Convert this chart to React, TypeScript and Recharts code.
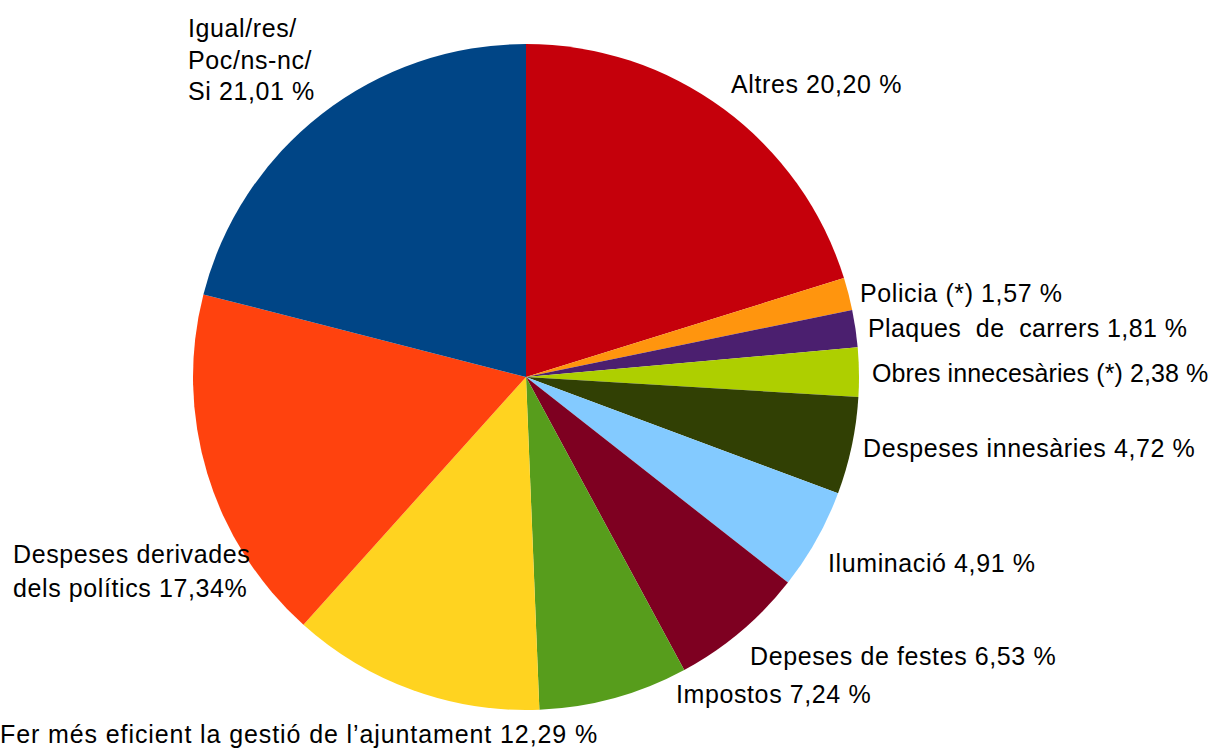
import { PieChart, Pie, Cell } from "recharts"

const categories = [
  "Altres",
  "Policia (*)",
  "Plaques  de  carrers",
  "Obres innecesàries (*)",
  "Despeses innesàries",
  "Iluminació",
  "Depeses de festes",
  "Impostos",
  "Fer més eficient la gestió de l’ajuntament",
  "Despeses derivades dels polítics",
  "Igual/res/Poc/ns-nc/Si",
]

const values = [20.2, 1.57, 1.81, 2.38, 4.72, 4.91, 6.53, 7.24, 12.29, 17.34, 21.01]

// label text, one entry per line
const labelLines = [
  ["Altres 20,20 %"],
  ["Policia (*) 1,57 %"],
  ["Plaques  de  carrers 1,81 %"],
  ["Obres innecesàries (*) 2,38 %"],
  ["Despeses innesàries 4,72 %"],
  ["Iluminació 4,91 %"],
  ["Depeses de festes 6,53 %"],
  ["Impostos 7,24 %"],
  ["Fer més eficient la gestió de l’ajuntament 12,29 %"],
  ["Despeses derivades", "dels polítics 17,34%"],
  ["Igual/res/", "Poc/ns-nc/", "Si 21,01 %"],
]

const colors = [
  "#c5000b", "#ff950e", "#4b1f6f", "#aecf00", "#314004", "#83caff",
  "#7e0021", "#579d1c", "#ffd320", "#ff420e", "#004586",
]

// label offsets from pie centre (left x, first baseline y)
const labelOffsets = [
  [205, -284], [334, -75], [342, -40], [346, 5], [337, 80], [302, 195],
  [224, 288], [150, 326], [-526, 366], [-513, 186], [-338, -340],
]

const labelSpacing = [0.6, 0.6, 0.4, 0.1, 0.6, 0.6, 0.6, 0.6, 0.9, 0.6, 0.6]

const data = categories.map((name, i) => ({ name, value: values[i] }))

const FONT = "'Liberation Sans', Arial, sans-serif"

function renderLabel(props: any) {
  const { cx, cy, index } = props
  const [dx, dy] = labelOffsets[index]
  const lines = labelLines[index]
  const gap = lines.length === 3 ? 31.5 : 34
  return (
    <text
      key={index}
      x={cx + dx}
      y={cy + dy}
      fill="#000"
      fontSize={25}
      fontFamily={FONT}
      textAnchor="start"
      style={{ whiteSpace: "pre", letterSpacing: labelSpacing[index] }}
    >
      {lines.map((l, i) => (
        <tspan key={i} x={cx + dx} y={cy + dy + i * gap}>{l}</tspan>
      ))}
    </text>
  )
}

export default function App() {
  return (
    <div style={{ position: "fixed", left: 0, top: 0, width: 1219, height: 749, background: "#fff" }}>
      <PieChart width={1219} height={749} margin={{ top: 0, right: 0, bottom: 0, left: 0 }}>
        <Pie
          data={data}
          dataKey="value"
          nameKey="name"
          cx={526}
          cy={377}
          outerRadius={333}
          startAngle={90}
          endAngle={-270}
          stroke="none"
          labelLine={false}
          label={renderLabel}
          isAnimationActive={false}
        >
          {data.map((_, i) => (
            <Cell key={i} fill={colors[i]} />
          ))}
        </Pie>
      </PieChart>
    </div>
  )
}
